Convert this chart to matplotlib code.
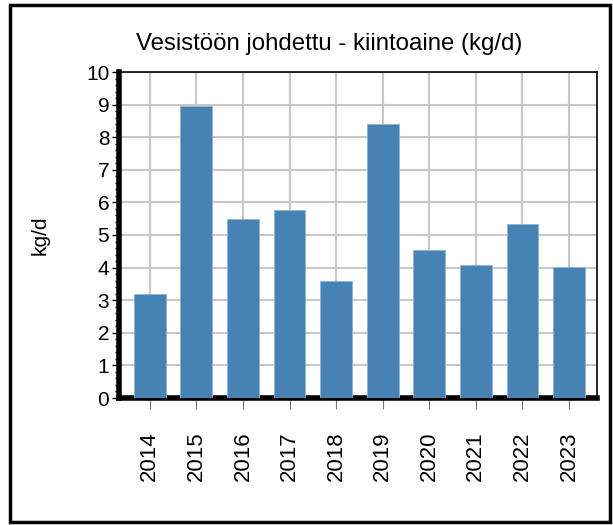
import numpy as np
import matplotlib
matplotlib.use('Agg')
import matplotlib.pyplot as plt
from matplotlib.patches import Rectangle
from matplotlib.ticker import MultipleLocator

years = ['2014', '2015', '2016', '2017', '2018', '2019', '2020', '2021', '2022', '2023']
values = [3.2, 8.97, 5.5, 5.78, 3.6, 8.42, 4.53, 4.09, 5.33, 4.02]

plt.rcParams['font.family'] = ['Liberation Sans', 'DejaVu Sans']

fig = plt.figure(figsize=(6.13, 5.25), dpi=100)
ax = fig.add_axes([119/613, 1 - 398/525, (597 - 119)/613, (398 - 72)/525])

x = np.arange(len(years))
ax.bar(x, values, width=0.68, color='#4682b4', edgecolor='#8fb4d6', linewidth=0.6, zorder=3)

ax.set_xlim(-0.66, 9.6)
ax.set_ylim(0, 10)
ax.yaxis.set_major_locator(MultipleLocator(1))
ax.yaxis.set_minor_locator(MultipleLocator(0.2))
ax.set_xticks(x)
ax.set_xticklabels(years, rotation=90, fontsize=16)
ax.tick_params(axis='x', length=8, color='#777777', pad=16)
ax.tick_params(axis='y', which='major', length=5, width=1, labelsize=15, pad=2)
ax.tick_params(axis='y', which='minor', length=3, width=1)

ax.grid(True, color='#c8c8c8', linewidth=1.5, zorder=0)
ax.set_axisbelow(True)

ax.spines['left'].set_linewidth(4)
ax.spines['bottom'].set_linewidth(4)
ax.spines['top'].set_linewidth(1.2)
ax.spines['right'].set_linewidth(1.2)

ax.set_ylabel('kg/d', fontsize=15, labelpad=26)
fig.text(329/613, 1 - 44/525, 'Vesistöön johdettu - kiintoaine (kg/d)',
         ha='center', va='center', fontsize=17.3)

# outer frame
fig.patches.append(Rectangle((10/613, 3/525), 600/613, 517/525, transform=fig.transFigure,
                             fill=False, edgecolor='black', linewidth=2.5))

fig.savefig('out.png', dpi=100)
